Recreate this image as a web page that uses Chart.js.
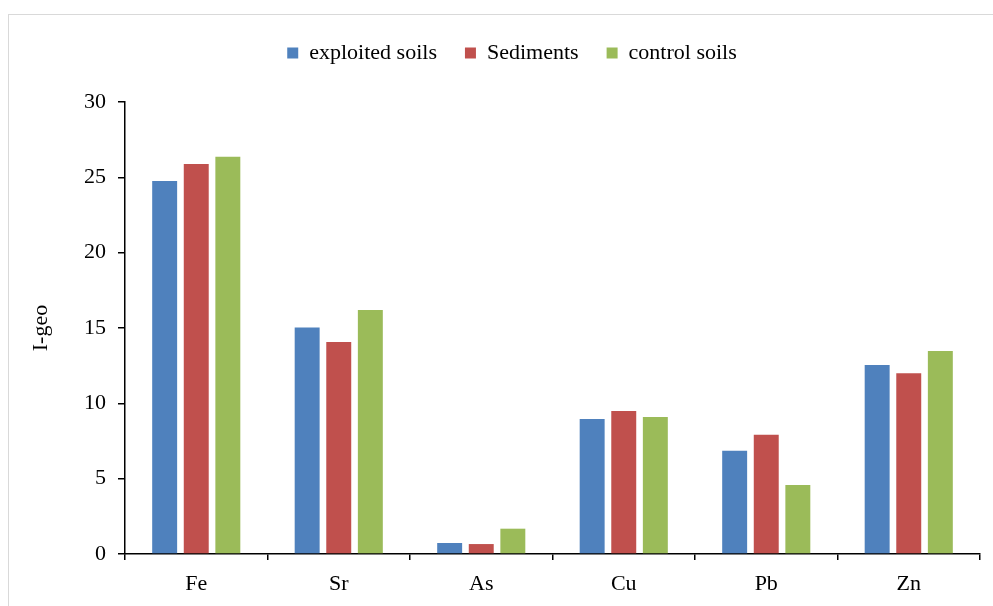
<!DOCTYPE html>
<html>
<head>
<meta charset="utf-8">
<script src="https://cdn.jsdelivr.net/npm/chart.js@4/dist/chart.umd.min.js"></script>
<style>
html,body{margin:0;padding:0;background:#fff;overflow:hidden;}
#wrap{position:absolute;left:0;top:0;width:993px;height:606px;}
#frame{position:absolute;left:8px;top:14px;width:1200px;height:800px;border-left:1px solid #d9d9d9;border-top:1px solid #d9d9d9;}
</style>
</head>
<body>
<div id="frame"></div>
<div id="wrap"><canvas id="c" width="993" height="606"></canvas></div>
<script>
const categories = ["Fe", "Sr", "As", "Cu", "Pb", "Zn"];
const exploitedSoils = [24.75, 15.04, 0.73, 8.96, 6.86, 12.54];
const sediments = [25.88, 14.07, 0.66, 9.49, 7.92, 12.0];
const controlSoils = [26.37, 16.19, 1.68, 9.09, 4.58, 13.47];
const seriesNames = ["exploited soils", "Sediments", "control soils"];
const yTicks = [0, 5, 10, 15, 20, 25, 30];

const FONT = "'Liberation Serif', 'Times New Roman', serif";

const legendSpacer = {
  id: 'legendSpacer',
  beforeInit(chart) {
    const orig = chart.legend.fit;
    chart.legend.fit = function () {
      orig.call(this);
      this.height += 28;
    };
  },
  afterLayout(chart) {
    chart.legend.left += 22;
    chart.legend.right += 22;
  }
};

new Chart(document.getElementById('c'), {
  type: 'bar',
  data: {
    labels: categories,
    datasets: [
      { label: seriesNames[0], data: exploitedSoils, backgroundColor: '#4F81BD' },
      { label: seriesNames[1], data: sediments, backgroundColor: '#C0504D' },
      { label: seriesNames[2], data: controlSoils, backgroundColor: '#9BBB59' }
    ]
  },
  plugins: [legendSpacer],
  options: {
    responsive: false,
    animation: false,
    layout: { padding: { left: 0, right: 13, top: 14, bottom: 0 } },
    datasets: { bar: { categoryPercentage: 0.665, barPercentage: 0.79 } },
    plugins: {
      tooltip: { enabled: false },
      legend: {
        position: 'top',
        align: 'center',
        labels: {
          color: '#000',
          font: { family: FONT, size: 22 },
          boxWidth: 11,
          boxHeight: 11,
          padding: 28
        }
      }
    },
    scales: {
      x: {
        grid: { display: true, drawOnChartArea: false, drawTicks: true, tickLength: 6, color: '#000', lineWidth: 1.5, offset: true },
        border: { display: true, color: '#000', width: 1.5 },
        ticks: { color: '#000', font: { family: FONT, size: 22 }, padding: 11 },
        afterFit(axis) { axis.height = 52; }
      },
      y: {
        min: 0,
        max: 30,
        afterBuildTicks(axis) { axis.ticks = yTicks.map(v => ({ value: v })); },
        grid: { display: true, drawOnChartArea: false, drawTicks: true, tickLength: 7, color: '#000', lineWidth: 1.5 },
        border: { display: true, color: '#000', width: 1.5 },
        ticks: { color: '#000', font: { family: FONT, size: 22 }, padding: 12 },
        title: { display: true, text: 'I-geo', color: '#000', font: { family: FONT, size: 22 }, padding: { top: 28, bottom: 0 } },
        afterFit(axis) { axis.width = 125; }
      }
    }
  }
});
</script>
</body>
</html>
